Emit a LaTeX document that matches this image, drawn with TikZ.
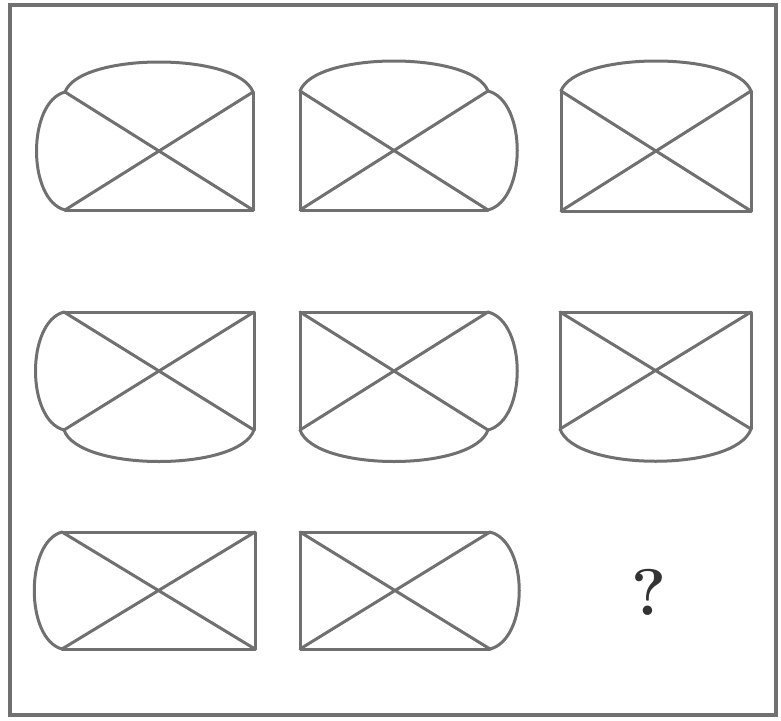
\documentclass[tikz,border=0pt]{standalone}
\begin{document}
\begin{tikzpicture}[x=1pt,y=-1pt,
  fig/.style={draw=figgray,line width=3pt,line join=round,line cap=round},
  frame/.style={draw=figgray,line width=3.2pt}]
\definecolor{figgray}{RGB}{112,112,112}
\useasboundingbox (0,0) rectangle (781,720);
\draw[frame] (10,5) rectangle (776,715);
% fig 1: top arc, left arc
\draw[fig] (253,92) -- (253,210) -- (65,210);
\draw[fig] (65,92) -- (253,210) (65,210) -- (253,92);
\draw[fig] (65,92) .. controls (80,52) and (238,52) .. (253,92);
\draw[fig] (65,92) .. controls (27,102) and (27,200) .. (65,210);
% fig 2: top arc, right arc
\draw[fig] (300,91) -- (300,210) -- (488,210);
\draw[fig] (300,91) -- (488,210) (300,210) -- (488,91);
\draw[fig] (300,91) .. controls (315,51) and (473,51) .. (488,91);
\draw[fig] (488,91) .. controls (527,101) and (527,200) .. (488,210);
% fig 3: top arc
\draw[fig] (561,91) -- (561,211) -- (751,211) -- (751,91);
\draw[fig] (561,91) -- (751,211) (561,211) -- (751,91);
\draw[fig] (561,91) .. controls (576,51) and (736,51) .. (751,91);
% fig 4: bottom arc, left arc
\draw[fig] (64,312) -- (254,312) -- (254,430);
\draw[fig] (64,312) -- (254,430) (64,430) -- (254,312);
\draw[fig] (64,430) .. controls (79,472) and (239,472) .. (254,430);
\draw[fig] (64,312) .. controls (26,322) and (26,420) .. (64,430);
% fig 5: bottom arc, right arc
\draw[fig] (300,430) -- (300,312) -- (488,312);
\draw[fig] (300,312) -- (488,430) (300,430) -- (488,312);
\draw[fig] (300,430) .. controls (315,472) and (473,472) .. (488,430);
\draw[fig] (488,312) .. controls (527,322) and (527,420) .. (488,430);
% fig 6: bottom arc
\draw[fig] (560,429) -- (560,312) -- (751,312) -- (751,429);
\draw[fig] (560,312) -- (751,429) (560,429) -- (751,312);
\draw[fig] (560,429) .. controls (575,472) and (736,472) .. (751,429);
% fig 7: left arc
\draw[fig] (62,532) -- (255,532) -- (255,649) -- (62,649);
\draw[fig] (62,532) -- (255,649) (62,649) -- (255,532);
\draw[fig] (62,532) .. controls (25,542) and (25,639) .. (62,649);
% fig 8: right arc
\draw[fig] (490,532) -- (300,532) -- (300,649) -- (490,649);
\draw[fig] (300,532) -- (490,649) (300,649) -- (490,532);
\draw[fig] (490,532) .. controls (529,542) and (529,639) .. (490,649);
% question mark
\node[text=black!80,inner sep=0pt,font=\fontsize{66}{66}\selectfont\bfseries] (q) at (649,592) {?};
\end{tikzpicture}
\end{document}
